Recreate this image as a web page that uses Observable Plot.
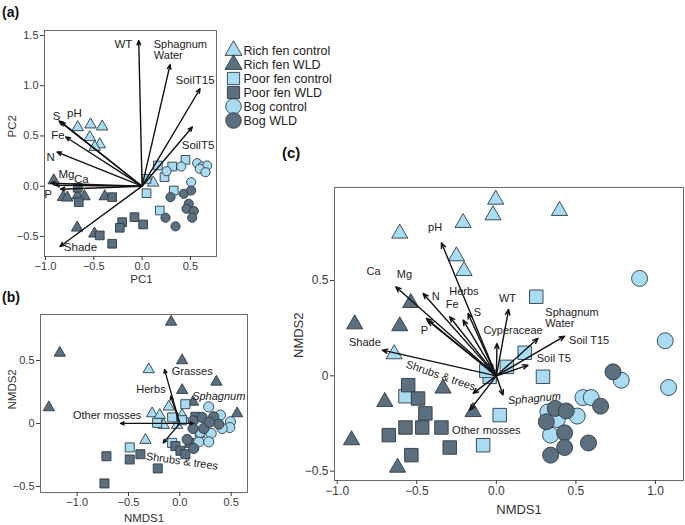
<!DOCTYPE html>
<html>
<head>
<meta charset="utf-8">
<script src="https://cdn.jsdelivr.net/npm/d3@7"></script>
<script src="https://cdn.jsdelivr.net/npm/@observablehq/plot@0.6"></script>
<style>
  body { margin: 0; background: #fff; font-family: "Liberation Sans", Arial, sans-serif; }
  #fig { position: relative; width: 685px; height: 525px; overflow: hidden; background: #fff; }
  .panel { position: absolute; }
  .panel svg { overflow: visible; }
  .tag { position: absolute; font-weight: bold; font-size: 14px; line-height: 16px; color: #111; }
</style>
</head>
<body>
<div id="fig">
  <div class="tag" style="left:2px; top:4px;">(a)</div>
  <div class="tag" style="left:2px; top:289px;">(b)</div>
  <div class="tag" style="left:282px; top:145px; font-size:15px;">(c)</div>
  <div class="panel" id="pa" style="left:0; top:0;"></div>
  <div class="panel" id="legend" style="left:222px; top:33px;"></div>
  <div class="panel" id="pb" style="left:0; top:300px;"></div>
  <div class="panel" id="pc" style="left:290px; top:160px;"></div>
</div>
<script>
// ---- groups -------------------------------------------------------------
const groups = ["Rich fen control", "Rich fen WLD", "Poor fen control", "Poor fen WLD", "Bog control", "Bog WLD"];

// ---- (a) PCA site scores, one array per group ---------------------------
const pcaRichCtrl = [[-0.666,0.586],[-0.534,0.613],[-0.413,0.593],[-0.541,0.487],[-0.438,0.415],[-0.49,0.39],[0.115,0.034]];
const pcaRichWLD  = [[-0.914,0.057],[-0.817,-0.109],[-0.775,-0.115],[-0.666,-0.092],[-0.596,-0.102],[-0.386,-0.102],[-0.672,-0.414],[-0.493,-0.473]];
const pcaPoorCtrl = [[0.046,0.073],[0.046,-0.07],[0.163,0.206],[0.232,0.09],[0.312,0.196],[0.449,0.262],[0.328,-0.043],[0.183,-0.242]];
const pcaPoorWLD  = [[-0.666,-0.016],[-0.655,-0.159],[-0.31,-0.109],[-0.438,-0.49],[-0.31,-0.573],[-0.206,-0.358],[-0.231,-0.414],[-0.079,-0.308],[0.011,-0.381]];
const pcaBogCtrl  = [[0.253,0.149],[0.405,0.196],[0.57,0.229],[0.622,0.196],[0.674,0.206],[0.597,0.173],[0.656,0.139],[0.508,0.04]];
const pcaBogWLD   = [[0.294,-0.109],[0.432,-0.076],[0.508,-0.043],[0.483,-0.175],[0.46,-0.225],[0.535,-0.248],[0.518,-0.314],[0.242,-0.314],[0.346,-0.4]];

// PCA loadings (arrow tips) and their label centres
const pcaVectors = [["WT",-0.035,1.45],["Sphagnum Water",0.29,1.21],["SoilT15",0.60,0.97],["SoilT5",0.52,0.59],
  ["S",-0.86,0.65],["pH",-0.84,0.64],["Fe",-0.79,0.49],["N",-0.88,0.34],["Mg",-0.948,0.03],["Ca",-0.90,0.01],
  ["P",-0.845,-0.03],["Shade",-0.85,-0.60]];
const pcaLabels = [["WT",-0.193,1.409],["SoilT15",0.548,1.051],
  ["SoilT5",0.579,0.405],["S",-0.886,0.693],["pH",-0.70,0.723],["Fe",-0.871,0.504],["N",-0.945,0.285],
  ["Mg",-0.783,0.123],["Ca",-0.63,0.064],["P",-0.974,-0.076],["Shade",-0.638,-0.612]];
// two-line label, placed by its left edge
const pcaWaterLabel = [["Sphagnum\nWater",0.121,1.357]];

// ---- (b) NMDS of vegetation groups --------------------------------------
const nmdsBRichCtrl = [[-0.303,0.429],[-0.27,0.079],[-0.196,0.066],[-0.157,-0.013],[-0.108,0.132],[-0.026,0.04],[0.022,0.066],[-0.335,-0.132],[-0.026,-0.013]];
const nmdsBRichWLD  = [[-0.085,0.806],[-1.169,0.56],[-1.276,0.127],[0.022,0.50],[0.356,0.33],[0.022,0.264],[0.129,0.171],[0.558,0.079]];
const nmdsBPoorCtrl = [[0.054,0.153],[-0.221,0.005],[-0.075,0.048],[0.022,0.026],[-0.488,-0.19],[0.194,-0.075],[-0.075,-0.154]];
const nmdsBPoorWLD  = [[-0.715,-0.26],[-0.488,-0.286],[-0.384,-0.244],[-0.215,-0.357],[-0.734,-0.476],[-0.043,-0.18],[0.006,-0.217],[0.096,-0.154],[0.054,-0.244],[0.152,0.053]];
const nmdsBBogCtrl  = [[0.281,0.132],[0.395,0.066],[0.493,0.013],[0.486,-0.032],[0.412,-0.04],[0.305,-0.079],[0.281,-0.146],[0.184,-0.146],[0.20,-0.07]];
const nmdsBBogWLD   = [[0.129,0.021],[0.217,0.048],[0.330,0.053],[0.129,-0.04],[0.233,-0.04],[0.379,-0.006],[0.135,-0.198],[0.071,-0.127],[0.29,0.01]];

const nmdsBVectors = [["Grasses",-0.15,0.429],["Herbs",-0.09,0.217],["Sphagnum",0.135,0],["Other mosses",-0.578,0],["Shrubs & trees",-0.163,-0.154]];
const nmdsBLabels  = [["Grasses",0.12,0.41],["Herbs",-0.281,0.272],["Sphagnum",0.379,0.211],["Other mosses",-0.708,0.066],["Shrubs & trees",0.02,-0.30]];

// ---- (c) NMDS of plant species ------------------------------------------
const nmdsCRichCtrl = [[-0.004,0.925],[-0.021,0.843],[-0.209,0.803],[-0.607,0.747],[-0.251,0.628],[-0.203,0.551],[0.397,0.866],[-0.642,0.114]];
const nmdsCRichWLD  = [[-0.538,0.383],[-0.89,0.271],[-0.607,0.261],[-0.335,-0.066],[-0.701,-0.136],[-0.146,-0.189],[-0.91,-0.337],[-0.621,-0.481]];
const nmdsCPoorCtrl = [[0.251,0.415],[0.178,0.121],[0.293,-0.005],[0.066,0.047],[-0.042,-0.005],[-0.063,0.026],[-0.571,-0.107],[-0.083,-0.364],[0.021,-0.206]];
const nmdsCPoorWLD  = [[-0.554,-0.049],[-0.492,-0.119],[-0.446,-0.197],[-0.571,-0.271],[-0.466,-0.271],[-0.345,-0.271],[-0.676,-0.311],[-0.293,-0.376],[-0.534,-0.416]];
const nmdsCBogCtrl  = [[0.9,0.511],[1.061,0.184],[1.082,-0.061],[0.785,-0.023],[0.544,-0.114],[0.596,-0.114],[0.508,-0.211],[0.324,-0.189],[0.383,-0.229],[0.341,-0.311]];
const nmdsCBogWLD   = [[0.370,-0.171],[0.439,-0.184],[0.314,-0.241],[0.429,-0.299],[0.341,-0.416],[0.429,-0.376],[0.579,-0.352],[0.655,-0.159],[0.733,0.021]];

const nmdsCEnvVectors = [["pH",-0.345,0.698],["Mg",-0.632,0.467],["Ca",-0.43,0.289],["N",-0.46,0.432],["P",-0.44,0.301],
  ["Fe",-0.293,0.31],["S",-0.178,0.327],["WT",0.077,0.348],["Sphagnum Water",0.262,0.197],["Soil T15",0.429,0.208],
  ["Soil T5",0.199,0.056],["Shade",-0.716,0.135]];
const nmdsCEnvLabels = [["pH",-0.385,0.779],["Ca",-0.772,0.546],["Mg",-0.578,0.534],["N",-0.381,0.418],["Fe",-0.277,0.376],
  ["S",-0.119,0.331],["P",-0.452,0.24],["Shade",-0.826,0.173],["WT",0.07,0.406],
  ["Soil T15",0.583,0.184],["Soil T5",0.361,0.091]];
// two-line label, placed by its left edge
const nmdsCWaterLabel = [["Sphagnum\nWater",0.308,0.305]];
const nmdsCSpeciesVectors = [["Herbs",-0.209,0.292],["Cyperaceae",0.004,0.17],["Sphagnum",0.042,-0.101],
  ["Other mosses",-0.167,-0.18],["Shrubs & trees",-0.146,-0.092]];
const nmdsCSpeciesLabels = [["Herbs",-0.204,0.441],["Cyperaceae",0.105,0.24],["Sphagnum",0.239,-0.119],
  ["Other mosses",-0.063,-0.285],["Shrubs & trees",-0.35,0.001]];

// ---- styling -------------------------------------------------------------
const FONT = "'Liberation Sans', Arial, sans-serif";
const LIGHT = "#a9dcf2", DARK = "#5b6f7e", EDGE = "#2e3b45", INK = "#222";
const SHAPES = ["triangle", "triangle", "square", "square", "circle", "circle"];
const FILLS = [LIGHT, DARK, LIGHT, DARK, LIGHT, DARK];

function siteDots(sets, radius) {
  return sets.map((pts, i) => Plot.dot(pts, {
    x: d => d[0], y: d => d[1], symbol: SHAPES[i], r: radius[SHAPES[i]],
    fill: FILLS[i], stroke: EDGE, strokeWidth: 0.9
  }));
}
function vectors(vs, head, width) {
  return Plot.arrow(vs, {x1: 0, y1: 0, x2: d => d[1], y2: d => d[2],
    stroke: "#111", strokeWidth: width, headLength: head, headAngle: 45});
}
function labels(ls, size, opts = {}) {
  return Plot.text(ls, {x: d => d[1], y: d => d[2], text: d => d[0], fontSize: size, fill: INK, ...opts});
}
function axes(xt, yt, xf, yf, size) {
  return [
    Plot.frame({stroke: "#6a6a6a", strokeWidth: 1}),
    Plot.axisX({ticks: xt, tickFormat: xf, tickSize: 4, tickPadding: 2, label: null, fontSize: size, color: "#3a3a3a"}),
    Plot.axisY({ticks: yt, tickFormat: yf, tickSize: 4, tickPadding: 2, label: null, fontSize: size, color: "#3a3a3a"})
  ];
}
const f1 = d3.format(".1f");
const fz = d => d === 0 ? "0" : f1(d);

// ---- (a) PCA biplot ------------------------------------------------------
const pa = Plot.plot({
  width: 230, height: 295, marginLeft: 44, marginRight: 14, marginTop: 30, marginBottom: 39,
  style: {fontFamily: FONT, background: "transparent", color: "#333"},
  x: {domain: [-1.01, 0.77]}, y: {domain: [-0.7, 1.55]},
  marks: [
    ...axes([-1, -0.5, 0, 0.5], [-0.5, 0, 0.5, 1, 1.5], f1, f1, 11),
    ...siteDots([pcaRichCtrl, pcaRichWLD, pcaPoorCtrl, pcaPoorWLD, pcaBogCtrl, pcaBogWLD], {triangle: 4.3, square: 4.9, circle: 4.6}),
    vectors(pcaVectors, 5, 1.4),
    labels(pcaLabels, 11.5),
    labels(pcaWaterLabel, 11, {textAnchor: "start", lineHeight: 1}),
    Plot.text(["PC1"], {frameAnchor: "bottom", dy: 26, dx: 11, fontSize: 11.5, fill: "#333"}),
    Plot.text(["PC2"], {frameAnchor: "left", dx: -32, dy: -6, rotate: -90, fontSize: 11.5, fill: "#333"})
  ]
});
document.getElementById("pa").append(pa);

// ---- legend ---------------------------------------------------------------
const legendRows = groups.map((g, i) => ({g, i}));
const legendSize = {triangle: 6.3, square: 6.9, circle: 7.8};
const legend = Plot.plot({
  width: 160, height: 104, margin: 0,
  style: {fontFamily: FONT, background: "transparent"},
  x: {axis: null, domain: [0, 1]},
  y: {type: "point", domain: groups, range: [9.5, 94], axis: null},
  marks: [
    ...["triangle", "square", "circle"].map(s => Plot.dot(legendRows.filter(d => SHAPES[d.i] === s), {
      y: "g", frameAnchor: "left", dx: 11, symbol: s, r: legendSize[s],
      fill: d => FILLS[d.i], stroke: EDGE, strokeWidth: 0.9
    })),
    Plot.text(legendRows, {y: "g", text: "g", frameAnchor: "left", dx: 21, textAnchor: "start", fontSize: 12.5, fill: INK})
  ]
});
document.getElementById("legend").append(legend);

// ---- (b) NMDS of vegetation groups -----------------------------------------
const pb = Plot.plot({
  width: 260, height: 225, marginLeft: 40, marginRight: 13, marginTop: 14, marginBottom: 33,
  style: {fontFamily: FONT, background: "transparent", color: "#333"},
  x: {domain: [-1.357, 0.659]}, y: {domain: [-0.548, 0.865]},
  marks: [
    ...axes([-1, -0.5, 0, 0.5], [-0.5, 0, 0.5], f1, fz, 11),
    ...siteDots([nmdsBRichCtrl, nmdsBRichWLD, nmdsBPoorCtrl, nmdsBPoorWLD, nmdsBBogCtrl, nmdsBBogWLD], {triangle: 4.2, square: 5.1, circle: 5.1}),
    vectors(nmdsBVectors, 4.5, 1.3),
    labels(nmdsBLabels.filter(d => d[0] !== "Sphagnum"), 11, {rotate: d => d[0] === "Shrubs & trees" ? 8 : 0}),
    labels(nmdsBLabels.filter(d => d[0] === "Sphagnum"), 11, {fontStyle: "italic"}),
    Plot.text(["NMDS1"], {frameAnchor: "bottom", dy: 29, fontSize: 11.5, fill: "#333"}),
    Plot.text(["NMDS2"], {frameAnchor: "left", dx: -28, dy: 6, rotate: -90, fontSize: 11.5, fill: "#333"})
  ]
});
document.getElementById("pb").append(pb);

// ---- (c) NMDS of plant species with fitted vectors -------------------------
const pc = Plot.plot({
  width: 395, height: 365, marginLeft: 44, marginRight: 2, marginTop: 27, marginBottom: 45,
  style: {fontFamily: FONT, background: "transparent", color: "#333"},
  x: {domain: [-1.017, 1.176]}, y: {domain: [-0.549, 0.988]},
  marks: [
    ...axes([-1, -0.5, 0, 0.5, 1], [-0.5, 0, 0.5], f1, fz, 12),
    ...siteDots([nmdsCRichCtrl, nmdsCRichWLD, nmdsCPoorCtrl, nmdsCPoorWLD, nmdsCBogCtrl, nmdsCBogWLD], {triangle: 6.0, square: 7.6, circle: 8.0}),
    vectors(nmdsCEnvVectors, 6, 1.4),
    vectors(nmdsCSpeciesVectors, 6, 1.4),
    labels(nmdsCEnvLabels, 11),
    labels(nmdsCWaterLabel, 11, {textAnchor: "start", lineHeight: 1}),
    labels(nmdsCSpeciesLabels.filter(d => d[0] !== "Sphagnum"), 11, {rotate: d => d[0] === "Shrubs & trees" ? 19 : 0}),
    labels(nmdsCSpeciesLabels.filter(d => d[0] === "Sphagnum"), 11, {fontStyle: "italic", rotate: -5}),
    Plot.text(["NMDS1"], {frameAnchor: "bottom", dy: 33, dx: 10, fontSize: 13, fill: "#333"}),
    Plot.text(["NMDS2"], {frameAnchor: "left", dx: -36, dy: 24, rotate: -90, fontSize: 13, fill: "#333"})
  ]
});
document.getElementById("pc").append(pc);
</script>
</body>
</html>
